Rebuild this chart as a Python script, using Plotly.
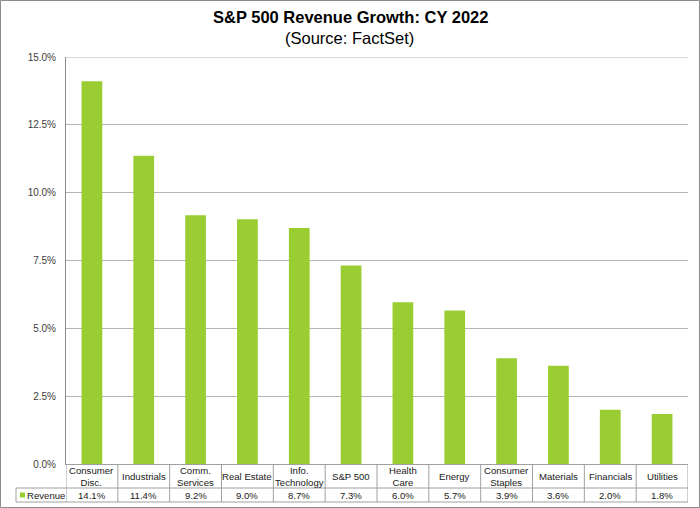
import plotly.graph_objects as go

categories = ["Consumer<br>Disc.", "Industrials", "Comm.<br>Services", "Real Estate",
              "Info.<br>Technology", "S&P 500", "Health<br>Care", "Energy",
              "Consumer<br>Staples", "Materials", "Financials", "Utilities"]
revenue = [14.11, 11.36, 9.17, 9.02, 8.70, 7.32, 5.96, 5.66, 3.90, 3.62, 2.00, 1.84]
series_name = "Revenue"
title_text = "S&P 500 Revenue Growth: CY 2022"
subtitle_text = "(Source: FactSet)"
y_ticks = [0, 2.5, 5, 7.5, 10, 12.5, 15]

W, H = 700, 508
L, R, T, B = 66, 12, 57, 44
PW, PH = W - L - R, H - T - B
GREEN = "#9ACD32"
GRID = "#b4b4b4"
LINE = "#a0a0a0"
FONT = "Arial, Liberation Sans, sans-serif"
TABLE_FS = 9.6

def px_x(p):  # pixel x -> paper
    return (p - L) / PW

def px_y(p):  # pixel y -> paper
    return 1 - (p - T) / PH

n = len(categories)
idx = list(range(n))

fig = go.Figure()
fig.add_trace(go.Bar(x=idx, y=revenue, marker=dict(color=GREEN, line=dict(width=0)),
                     width=0.4, name=series_name, showlegend=False,
                     hoverinfo="skip"))

shapes = []
annotations = []
row1_bot = px_y(488)
row2_bot = px_y(502)
cell_left = px_x(16)
for i in range(n + 1):
    shapes.append(dict(type="line", xref="x", yref="paper", x0=i - 0.5, x1=i - 0.5,
                       y0=0, y1=row2_bot, line=dict(color=LINE, width=1)))
shapes.append(dict(type="line", xref="paper", yref="paper", x0=cell_left, x1=1,
                   y0=row1_bot, y1=row1_bot, line=dict(color=LINE, width=1)))
shapes.append(dict(type="line", xref="paper", yref="paper", x0=cell_left, x1=1,
                   y0=row2_bot, y1=row2_bot, line=dict(color=LINE, width=1)))
shapes.append(dict(type="line", xref="paper", yref="paper", x0=cell_left, x1=cell_left,
                   y0=row1_bot, y1=row2_bot, line=dict(color=LINE, width=1)))
shapes.append(dict(type="line", xref="paper", yref="y", x0=0, x1=1, y0=15, y1=15,
                   line=dict(color=GRID, width=1)))
shapes.append(dict(type="rect", xref="paper", yref="paper", x0=px_x(20), x1=px_x(25),
                   y0=px_y(497.5), y1=px_y(492.5), fillcolor=GREEN, line=dict(width=0)))
shapes.append(dict(type="rect", xref="paper", yref="paper", x0=px_x(0.5), x1=px_x(699.5),
                   y0=px_y(507.5), y1=px_y(0.5), line=dict(color="#8c8c8c", width=1),
                   fillcolor="rgba(0,0,0,0)"))

for i, (c, v) in enumerate(zip(categories, revenue)):
    annotations.append(dict(x=i, y=px_y(476), xref="x", yref="paper", text=c,
                            showarrow=False, font=dict(size=TABLE_FS, color="#1a1a1a", family=FONT),
                            yanchor="middle", xanchor="center"))
    annotations.append(dict(x=i, y=px_y(495.5), xref="x", yref="paper", text=f"{v:.1f}%",
                            showarrow=False, font=dict(size=TABLE_FS, color="#1a1a1a", family=FONT),
                            yanchor="middle", xanchor="center"))
annotations.append(dict(x=px_x(25), y=px_y(495.5), xref="paper", yref="paper",
                        text=series_name, showarrow=False, xanchor="left", yanchor="middle",
                        font=dict(size=TABLE_FS, color="#1a1a1a", family=FONT)))
annotations.append(dict(x=px_x(350), y=px_y(17), xref="paper", yref="paper",
                        text=f"<b>{title_text}</b>", showarrow=False, xanchor="center",
                        yanchor="middle", font=dict(size=16.5, color="#000000", family=FONT)))
annotations.append(dict(x=px_x(349), y=px_y(38), xref="paper", yref="paper",
                        text=subtitle_text, showarrow=False, xanchor="center",
                        yanchor="middle", font=dict(size=16.5, color="#000000", family=FONT)))

fig.update_layout(
    width=W, height=H, margin=dict(l=L, r=R, t=T, b=B, autoexpand=False),
    paper_bgcolor="white", plot_bgcolor="white",
    bargap=0.6,
    shapes=shapes, annotations=annotations,
    xaxis=dict(range=[-0.5, n - 0.5], showticklabels=False, showgrid=False,
               zeroline=False, showline=True, linecolor=LINE, linewidth=1, ticks="",
               fixedrange=True),
    yaxis=dict(range=[0, 15], tickvals=y_ticks,
               ticktext=[f"{t:.1f}%" for t in y_ticks],
               showgrid=True, gridcolor=GRID, gridwidth=1, zeroline=False,
               showline=True, linecolor="#8c8c8c", linewidth=1, ticks="",
               ticklabelstandoff=7,
               tickfont=dict(size=10, color="#404040", family=FONT), fixedrange=True),
    showlegend=False,
)

fig.write_html("out.html", config={"displayModeBar": False},
               post_script="document.body.style.margin='0';document.body.style.overflow='hidden';")
